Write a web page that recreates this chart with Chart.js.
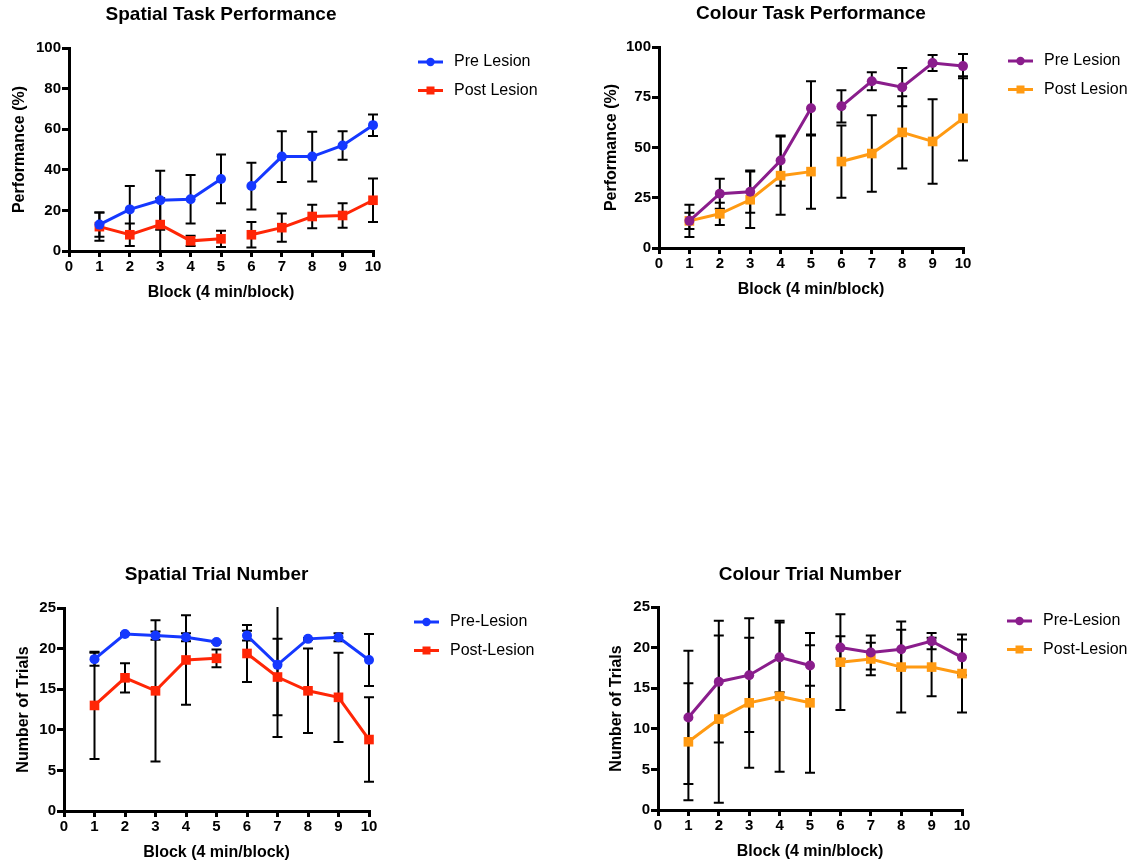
<!DOCTYPE html>
<html>
<head>
<meta charset="utf-8">
<script src="https://cdn.jsdelivr.net/npm/chart.js@4.4.0/dist/chart.umd.min.js"></script>
<style>
  body { margin: 0; background: #fff; width: 1147px; height: 865px; position: relative; overflow: hidden; }
  canvas { position: absolute; }
</style>
</head>
<body>
<canvas id="spatialPerf" width="573" height="310" style="left:0;top:0"></canvas>
<canvas id="colourPerf" width="574" height="310" style="left:573px;top:0"></canvas>
<canvas id="spatialTrials" width="573" height="310" style="left:0;top:555px"></canvas>
<canvas id="colourTrials" width="574" height="310" style="left:573px;top:555px"></canvas>
<script>
// block numbers (x axis)
const blocks = [1, 2, 3, 4, 5, 6, 7, 8, 9, 10];

// Spatial task performance (%), mean and error
const spatialPerfPre = [13, 20.5, 25, 25.5, 35.5, 32, 46.5, 46.5, 52, 62];
const spatialPerfPreErr = [6, 11.5, 14.5, 12, 12, 11.5, 12.5, 12.3, 7, 5.3];
const spatialPerfPost = [12, 8, 13, 5, 6, 8, 11.5, 17, 17.5, 25];
const spatialPerfPostErr = [7, 5.5, 13, 2.5, 4, 6.3, 7, 5.8, 6, 10.7];

// Colour task performance (%)
const colourPerfPre = [13.5, 27, 28, 43.5, 69.5, 70.5, 83, 80, 92, 90.5];
const colourPerfPreErr = [8, 7.5, 10.5, 12.5, 13.5, 8, 4.5, 9.5, 4, 6];
const colourPerfPost = [13.5, 17, 24, 36, 38, 43, 47, 57.5, 53, 64.5];
const colourPerfPostErr = [4, 5.5, 14, 19.5, 18.5, 18, 19, 18, 21, 21];

// Spatial trial number
const spatialTrialPre = [18.7, 21.8, 21.6, 21.4, 20.8, 21.6, 18.0, 21.2, 21.4, 18.6];
const spatialTrialPreErr = [0.8, 0.1, 0.5, 0.5, 0.1, 0.6, 8.9, 0.1, 0.5, 3.2];
const spatialTrialPost = [13, 16.4, 14.8, 18.6, 18.8, 19.4, 16.5, 14.8, 14, 8.8];
const spatialTrialPostErr = [6.6, 1.8, 8.7, 5.5, 1.1, 3.5, 4.7, 5.2, 5.5, 5.2];

// Colour trial number
const colourTrialPre = [11.4, 15.8, 16.6, 18.8, 17.8, 20, 19.4, 19.8, 20.8, 18.8];
const colourTrialPreErr = [8.2, 7.5, 7, 4.3, 2.5, 1.4, 2.1, 2.4, 1, 2.2];
const colourTrialPost = [8.4, 11.2, 13.2, 14, 13.2, 18.2, 18.6, 17.6, 17.6, 16.8];
const colourTrialPostErr = [7.2, 10.3, 8, 9.3, 8.6, 5.9, 2, 5.6, 3.6, 4.8];

const FONT = '"Liberation Sans", Arial, Helvetica, sans-serif';
const BLUE = '#1538ff', RED = '#ff2606', PURPLE = '#8a1d8c', ORANGE = '#ff9a12';

// vertical error bars with caps, drawn under the lines/markers
const errorBarPlugin = {
  id: 'errorBars',
  beforeDatasetsDraw(chart) {
    const { ctx, chartArea, scales: { x, y } } = chart;
    ctx.save();
    // clip only top/bottom so the caps at block 10 stay whole
    ctx.beginPath();
    ctx.rect(0, chartArea.top - 1, chart.width, chartArea.height + 2);
    ctx.clip();
    ctx.strokeStyle = '#000';
    ctx.lineWidth = 2;
    chart.data.datasets.forEach(ds => {
      ds.data.forEach((p, i) => {
        const e = ds.errors[i];
        const px = x.getPixelForValue(p.x);
        const top = y.getPixelForValue(p.y + e);
        const bot = y.getPixelForValue(p.y - e);
        ctx.beginPath();
        ctx.moveTo(px, top); ctx.lineTo(px, bot);
        ctx.moveTo(px - 5, top); ctx.lineTo(px + 5, top);
        ctx.moveTo(px - 5, bot); ctx.lineTo(px + 5, bot);
        ctx.stroke();
      });
    });
    ctx.restore();
  }
};

// legend to the right of the plot: line with marker, then label
const sideLegendPlugin = {
  id: 'sideLegend',
  afterDraw(chart) {
    const { ctx, chartArea } = chart;
    chart.data.datasets.forEach((ds, i) => {
      const y = chartArea.top + 14 + i * 28.5;
      const x0 = chartArea.right + 45;
      ctx.save();
      ctx.strokeStyle = ds.borderColor;
      ctx.lineWidth = 3;
      ctx.beginPath(); ctx.moveTo(x0, y); ctx.lineTo(x0 + 25, y); ctx.stroke();
      ctx.fillStyle = ds.borderColor;
      if (ds.pointStyle === 'rect') {
        ctx.fillRect(x0 + 8.5, y - 4, 8, 8);
      } else {
        ctx.beginPath(); ctx.arc(x0 + 12.5, y, 4.2, 0, Math.PI * 2); ctx.fill();
      }
      ctx.font = '16px ' + FONT;
      ctx.fillStyle = '#000';
      ctx.textBaseline = 'middle';
      ctx.fillText(ds.label, x0 + 36, y);
      ctx.restore();
    });
  }
};

function series(label, values, errs, color, style) {
  return {
    label: label,
    data: blocks.map((b, i) => ({ x: b, y: values[i] })),
    errors: errs,
    borderColor: color,
    backgroundColor: color,
    borderWidth: 3,
    pointStyle: style,
    pointRadius: style === 'rect' ? 6.8 : 5,
    pointBorderWidth: 0,
    pointBackgroundColor: color,
    clip: false,
    // no line between block 5 and block 6
    segment: { borderColor: c => c.p0DataIndex === 4 ? 'rgba(0,0,0,0)' : color },
    tension: 0
  };
}

function makeChart(id, cfg) {
  const h = 310, w = cfg.width;
  const area = cfg.area;
  const titleLH = 19 * 1.2, axisLH = 16 * 1.2;
  new Chart(document.getElementById(id), {
    type: 'line',
    data: { datasets: cfg.datasets },
    options: {
      responsive: false,
      animation: false,
      layout: { padding: { left: 0, right: w - area.right, top: 0, bottom: 0 } },
      scales: {
        x: {
          type: 'linear', min: 0, max: 10,
          afterFit: s => { s.height = h - area.bottom; },
          ticks: { stepSize: 1, color: '#000', padding: 1, font: { family: FONT, size: 15, weight: 'bold' } },
          grid: { drawOnChartArea: false, drawTicks: true, tickLength: 6, color: '#000', lineWidth: 3 },
          border: { color: '#000', width: 3 },
          title: {
            display: true, text: 'Block (4 min/block)', color: '#000',
            font: { family: FONT, size: 16, weight: 'bold' },
            padding: { top: 0, bottom: h - cfg.xTitleY - axisLH / 2 }
          }
        },
        y: {
          min: 0, max: cfg.yMax,
          afterFit: s => { s.width = area.left; },
          ticks: { stepSize: cfg.yStep, color: '#000', padding: 1, font: { family: FONT, size: 15, weight: 'bold' } },
          grid: { drawOnChartArea: false, drawTicks: true, tickLength: 7, color: '#000', lineWidth: 3 },
          border: { color: '#000', width: 3 },
          title: {
            display: true, text: cfg.yTitle, color: '#000',
            font: { family: FONT, size: 16, weight: 'bold' },
            padding: { top: cfg.yTitleX - axisLH / 2, bottom: 0 }
          }
        }
      },
      plugins: {
        legend: { display: false },
        tooltip: { enabled: false },
        title: {
          display: true, text: cfg.title, color: '#000', fullSize: false,
          font: { family: FONT, size: 19, weight: 'bold' },
          padding: { top: cfg.titleY - titleLH / 2, bottom: area.top - titleLH - (cfg.titleY - titleLH / 2) }
        }
      }
    },
    plugins: [errorBarPlugin, sideLegendPlugin]
  });
}

makeChart('spatialPerf', {
  width: 573, area: { left: 69, right: 373, top: 48, bottom: 251 },
  titleY: 15, xTitleY: 293, yTitleX: 20,
  title: 'Spatial Task Performance', yTitle: 'Performance (%)', yMax: 100, yStep: 20,
  datasets: [
    series('Pre Lesion', spatialPerfPre, spatialPerfPreErr, BLUE, 'circle'),
    series('Post Lesion', spatialPerfPost, spatialPerfPostErr, RED, 'rect')
  ]
});

makeChart('colourPerf', {
  width: 574, area: { left: 86, right: 390, top: 47, bottom: 248 },
  titleY: 14, xTitleY: 290, yTitleX: 39,
  title: 'Colour Task Performance', yTitle: 'Performance (%)', yMax: 100, yStep: 25,
  datasets: [
    series('Pre Lesion', colourPerfPre, colourPerfPreErr, PURPLE, 'circle'),
    series('Post Lesion', colourPerfPost, colourPerfPostErr, ORANGE, 'rect')
  ]
});

makeChart('spatialTrials', {
  width: 573, area: { left: 64, right: 369, top: 53, bottom: 256 },
  titleY: 20, xTitleY: 298, yTitleX: 24,
  title: 'Spatial Trial Number', yTitle: 'Number of Trials', yMax: 25, yStep: 5,
  datasets: [
    series('Pre-Lesion', spatialTrialPre, spatialTrialPreErr, BLUE, 'circle'),
    series('Post-Lesion', spatialTrialPost, spatialTrialPostErr, RED, 'rect')
  ]
});

makeChart('colourTrials', {
  width: 574, area: { left: 85, right: 389, top: 52, bottom: 255 },
  titleY: 20, xTitleY: 297, yTitleX: 44,
  title: 'Colour Trial Number', yTitle: 'Number of Trials', yMax: 25, yStep: 5,
  datasets: [
    series('Pre-Lesion', colourTrialPre, colourTrialPreErr, PURPLE, 'circle'),
    series('Post-Lesion', colourTrialPost, colourTrialPostErr, ORANGE, 'rect')
  ]
});
</script>
</body>
</html>
